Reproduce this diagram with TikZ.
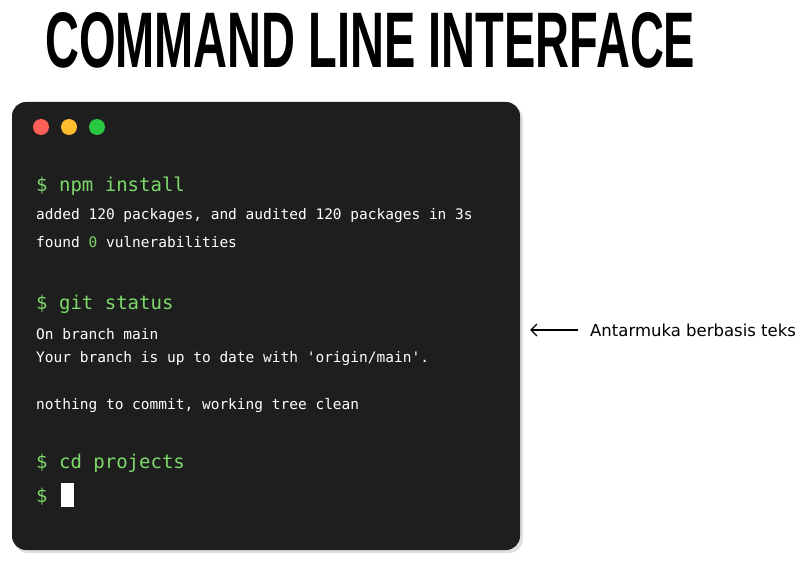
\documentclass[tikz,border=0pt]{standalone}
\usepackage{fontspec}
\setmainfont{Liberation Sans}
\newfontfamily\monof{DejaVu Sans Mono}
\newfontfamily\labf{DejaVu Sans}
\usetikzlibrary{arrows.meta}
\definecolor{term}{HTML}{1E1E1E}
\definecolor{prompt}{HTML}{7CD96A}
\definecolor{dred}{HTML}{FF5F57}
\definecolor{dyel}{HTML}{FEBC2E}
\definecolor{dgrn}{HTML}{28C840}
\tikzset{
  cmdtext/.style={anchor=base west, inner sep=0pt, text=prompt, font=\monof\fontsize{19}{19}\selectfont},
  outtext/.style={anchor=base west, inner sep=0pt, text=white, font=\monof\fontsize{14.5}{14.5}\selectfont},
  dotc/.style={circle, minimum size=16pt, inner sep=0pt}
}
\begin{document}
\begin{tikzpicture}[x=1pt,y=-1pt]
\useasboundingbox (0,0) rectangle (800,561);
\node[anchor=north west, inner sep=0pt] (title) at (45,12) {\resizebox{650pt}{55pt}{\bfseries COMMAND LINE INTERFACE}};
\fill[black!25, opacity=0.5, rounded corners=14pt] (14,105) rectangle (523,553);
\fill[term, rounded corners=14pt] (12,102) rectangle (520,550);
\node[dotc, fill=dred] (d1) at (41,127) {};
\node[dotc, fill=dyel] (d2) at (69,127) {};
\node[dotc, fill=dgrn] (d3) at (97,127) {};
\node[cmdtext] (c1) at (36,192) {\$ npm install};
\node[outtext] (o1) at (36,220) {added 120 packages, and audited 120 packages in 3s};
\node[outtext] (o2) at (36,248) {found \textcolor{prompt}{0} vulnerabilities};
\node[cmdtext] (c2) at (36,309) {\$ git status};
\node[outtext] (o3) at (36,339) {On branch main};
\node[outtext] (o4) at (36,362) {Your branch is up to date with 'origin/main'.};
\node[outtext] (o5) at (36,409) {nothing to commit, working tree clean};
\node[cmdtext] (c3) at (36,468) {\$ cd projects};
\node[cmdtext] (c4) at (36,502) {\$};
\fill[white] (61,483) rectangle (74,507);
\node[anchor=west, inner sep=0pt, font=\labf\fontsize{16.5}{16.5}\selectfont] (lab) at (590,330) {Antarmuka berbasis teks};
\coordinate (tip) at (530,330);
\draw[-{Straight Barb[length=6pt,width=12pt]}, line width=1.3pt] (lab.west) ++(-12,0) -- (tip);
\end{tikzpicture}
\end{document}
